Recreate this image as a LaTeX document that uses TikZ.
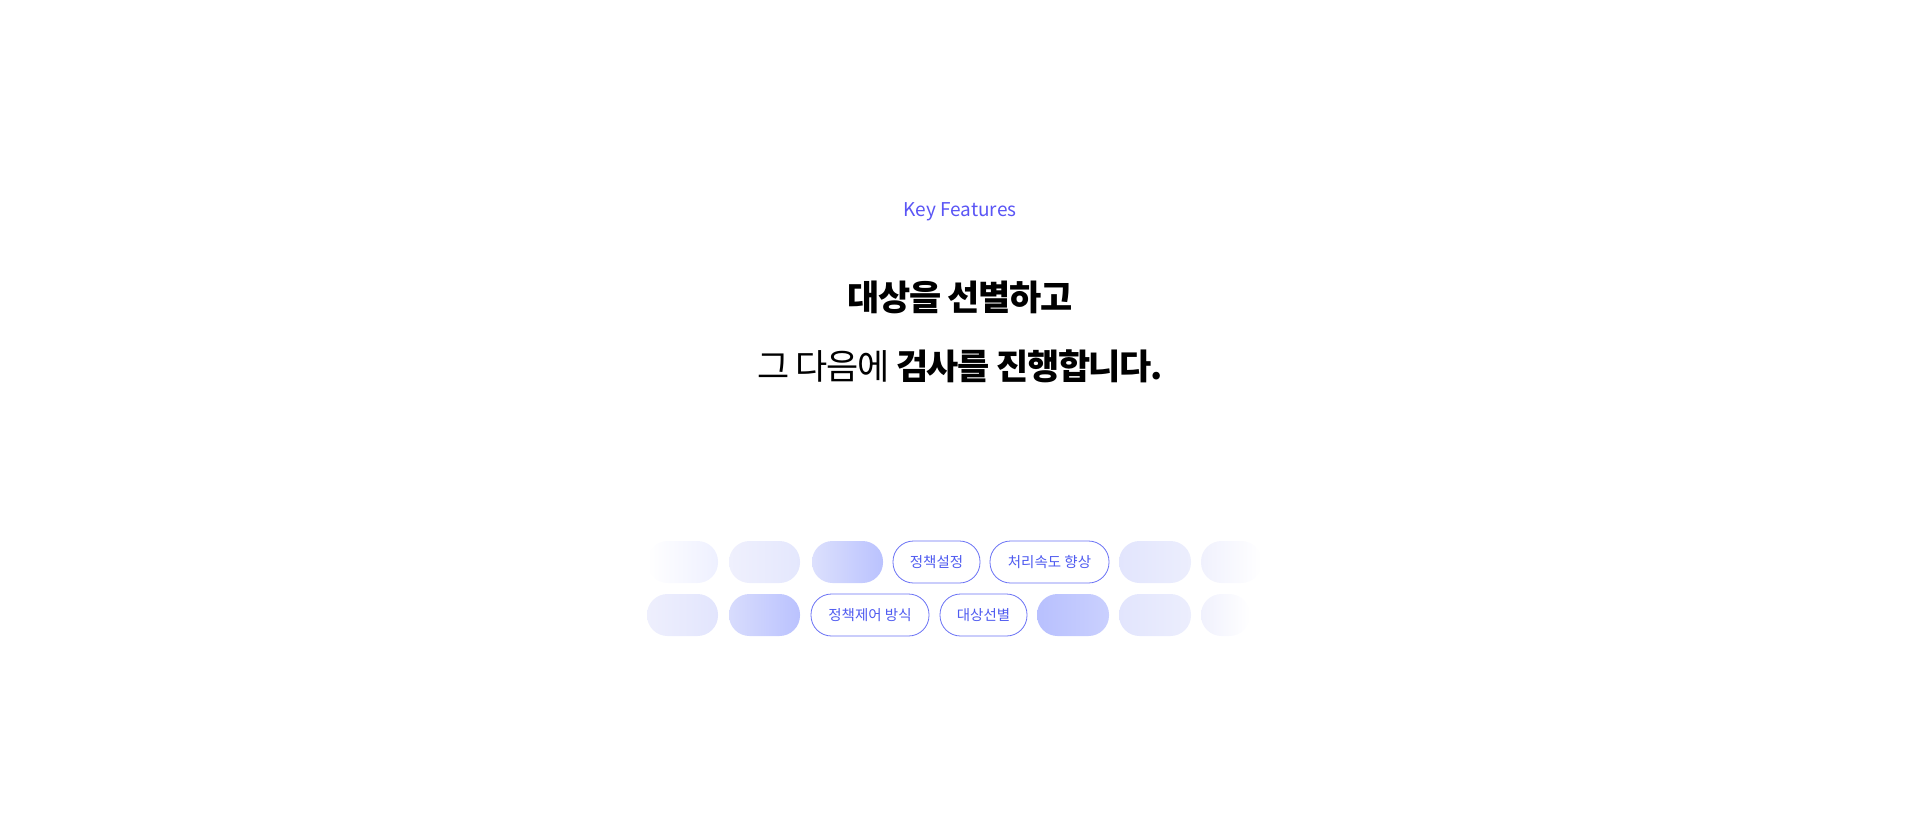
\documentclass[tikz,border=0pt]{standalone}
\usepackage{fontspec}
\setmainfont{Noto Sans CJK KR}
\newfontfamily\kr{Noto Sans CJK KR}
\newfontfamily\krt[LetterSpace=-4]{Noto Sans CJK KR}
\definecolor{acc}{HTML}{5A55F5}
\definecolor{pilltxt}{HTML}{4F5BF0}
\definecolor{pillline}{HTML}{6A72F5}
\tikzset{x=1pt,y=-1pt,
  pill/.style={rounded corners=20.5pt},
  tag/.style={draw=pillline,line width=0.8pt,fill=white,rounded corners=20.5pt},
  tagtxt/.style={text=pilltxt,font=\kr\fontsize{14.5}{16}\selectfont}}
\newcommand\gpill[5]{\definecolor{gl}{HTML}{#3}\definecolor{gr}{HTML}{#4}\shade[pill,left color=gl,right color=gr] (#1,#2) rectangle (#5,#2+42);}
\begin{document}
\begin{tikzpicture}
\useasboundingbox (0,0) rectangle (1920,836);
\node (key) at (960,212) [text=acc,font=\kr\fontsize{19}{22}\selectfont] {Key Features};
\node (t1) at (960,297) [font=\krt\bfseries\fontsize{35}{40}\selectfont] {대상을 선별하고};
\node (t2) at (960,366) [font=\krt\fontsize{35}{40}\selectfont] {그 다음에 \bfseries 검사를 진행합니다.};
% row 1
\gpill{647}{541}{FFFFFF}{EEF0FF}{718}
\gpill{729}{541}{EFF0FD}{E4E7FD}{800}
\gpill{812}{541}{DCE0FD}{BAC2FE}{883}
\draw[tag] (893,541) rectangle (980,583);
\node[tagtxt] (a1) at (936.5,562) {정책설정};
\draw[tag] (990,541) rectangle (1109,583);
\node[tagtxt] (a2) at (1049.5,562) {처리속도 향상};
\gpill{1119}{541}{E2E5FD}{ECEEFD}{1191}
\gpill{1201}{541}{F0F1FD}{FFFFFF}{1262}
% row 2
\gpill{647}{594}{EEEFFD}{E2E5FD}{718}
\gpill{729}{594}{D8DCFD}{BAC2FE}{800}
\draw[tag] (811,594) rectangle (929,636);
\node[tagtxt] (b1) at (870,615) {정책제어 방식};
\draw[tag] (940,594) rectangle (1027,636);
\node[tagtxt] (b2) at (983.5,615) {대상선별};
\gpill{1037}{594}{B8C0FE}{CAD0FE}{1109}
\gpill{1119}{594}{E2E5FD}{ECEEFD}{1191}
\gpill{1201}{594}{F0F1FD}{FFFFFF}{1250}
\end{tikzpicture}
\end{document}
